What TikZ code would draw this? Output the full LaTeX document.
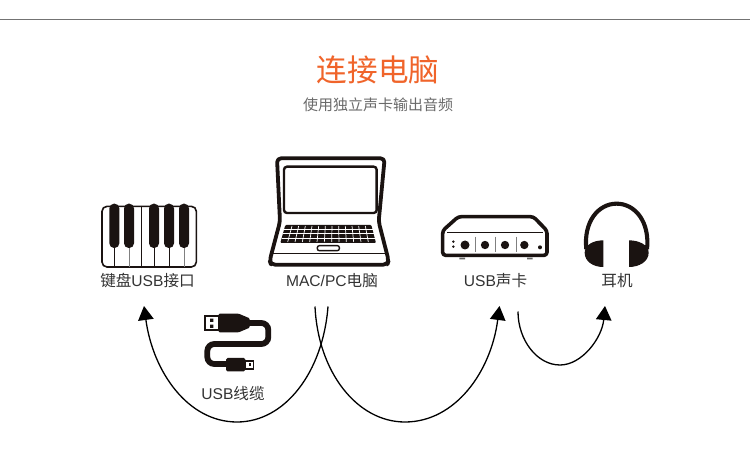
\documentclass[tikz,border=0pt]{standalone}
\usepackage{fontspec}
\setmainfont{Liberation Sans}
\newfontfamily\cjk{Noto Sans CJK SC}
\usetikzlibrary{arrows.meta}
\definecolor{ink}{HTML}{1A1311}
\definecolor{titleor}{HTML}{F0642A}
\definecolor{subg}{HTML}{6A6A6A}
\definecolor{labelg}{HTML}{333333}
\tikzset{
  lab/.style={font=\fontsize{15.6}{15.6}\selectfont, text=labelg, inner sep=0pt, anchor=center},
  arcline/.style={line width=1.3pt, black, -{Triangle[length=14pt,width=15.5pt]}},
  thinline/.style={draw=ink, line width=0.9pt},
  greyline/.style={draw=gray, line width=0.9pt},
}
\begin{document}
\begin{tikzpicture}[x=1pt,y=-1pt]
\useasboundingbox (0,0) rectangle (750,449);
\fill[white] (0,0) rectangle (750,449);
\draw[draw=gray!90!black, line width=1pt] (0,19.5) -- (750,19.5);
\node[inner sep=0pt, text=titleor, font=\fontsize{30.6}{30.6}\selectfont\cjk] (title) at (378,70) {连接电脑};
\node[inner sep=0pt, text=subg, font=\fontsize{15}{15}\selectfont\cjk] (subtitle) at (378,104.5) {使用独立声卡输出音频};

% keyboard
\begin{scope}[shift={(90,150)},scale=1/3]
  \draw[draw=ink, line width=1.6pt, fill=white, rounded corners=5pt] (36,169) rectangle (319,351);
  \draw[thinline] (155,168) -- (155,352);
  \foreach \x in {73,192,237} \draw[thinline] (\x,280) -- (\x,352);
  \foreach \x in {117,282} \draw[greyline] (\x,280) -- (\x,352);
  \foreach \x in {73,117,192,237,282}
    \fill[ink, rounded corners=4.7pt] (\x-15,161) rectangle (\x+15,294);
\end{scope}

% laptop
\begin{scope}[shift={(90,150)},scale=1/3]
  \draw[draw=ink, line width=3.8pt, fill=white, line join=round, rounded corners=4pt]
    (561,25) -- (884,25) -- (866,215) -- (896,332) -- (892,344) -- (543,344) -- (539,332) -- (570,215) -- cycle;
  \draw[draw=ink, line width=2.4pt, rounded corners=3pt] (582,50) rectangle (860,189);
  \fill[ink, rounded corners=1pt] (586,225) -- (844,225) -- (858,279) -- (571,279) -- cycle;
  \foreach \y/\a/\b in {238/582/848,251/578/851,265/575/855}
    \draw[white, line width=0.7pt] (\a,\y) -- (\b,\y);
  \foreach \t in {1,...,12}
    \draw[white, line width=0.7pt] ({586+\t*20},228) -- ({571+\t*22},276);
  \draw[draw=ink, line width=1.4pt, rounded corners=2pt] (682,287) rectangle (748,302);
  \draw[draw=ink, line width=0.9pt] (550,310) -- (885,310);
\end{scope}

% sound card
\begin{scope}[shift={(430,190)},scale=1/3]
  \draw[draw=ink, line width=3.6pt, fill=white, line join=round, rounded corners=3pt]
    (38,122) -- (85,80) -- (310,80) -- (351,122) -- (351,196) -- (38,196) -- cycle;
  \draw[draw=ink, line width=0.8pt] (52,128) -- (338,128);
  \foreach \x in {135,195,258} \draw[greyline] (\x,140) -- (\x,186);
  \foreach \x in {165,225,283} \fill[ink] (\x,165) circle (12.5);
  \fill[ink] (105,165) circle (13.5);
  \fill[ink] (70,155) circle (4) (70,170) circle (4);
  \fill[ink] (330,172) circle (6);
  \fill[gray!80!black] (88,203) rectangle (105,208) (291,203) rectangle (308,208);
\end{scope}

% headphones
\begin{scope}[shift={(430,190)},scale=1/3]
  \draw[draw=ink, line width=4.1pt] (469,178) .. controls (460,95) and (505,41) .. (560,41) .. controls (615,41) and (660,95) .. (651,178);
  \fill[ink] (520,151) .. controls (490,151) and (464,165) .. (464,188) .. controls (464,215) and (490,231) .. (520,231) -- cycle;
  \fill[ink] (597,151) .. controls (627,151) and (656,165) .. (656,188) .. controls (656,215) and (627,231) .. (597,231) -- cycle;
\end{scope}

% usb cable
\begin{scope}[shift={(130,300)},scale=1/3]
  \draw[draw=ink, line width=5.8pt, rounded corners=7pt]
    (350,69) -- (415,69) -- (415,132) -- (232,132) -- (232,192) -- (295,192);
  \fill[ink, rounded corners=1pt] (266,41) -- (326,41) -- (359,55) -- (359,83) -- (326,97) -- (266,97) -- cycle;
  \draw[draw=ink, line width=1.8pt, fill=white] (224,49) rectangle (266,91);
  \fill[ink] (240,56) rectangle (250,66) (240,74) rectangle (250,84);
  \fill[ink, rounded corners=1.5pt] (288,174) rectangle (346,214);
  \draw[draw=ink, line width=1.4pt, fill=white] (346,183) rectangle (370,207);
  \fill[ink] (356,190) rectangle (364,198);
\end{scope}

% labels
\node[lab] (kbd) at (147.5,281) {{\cjk 键盘}USB{\cjk 接口}};
\node[lab] (mac) at (332,281) {MAC/PC{\cjk 电脑}};
\node[lab] (card) at (495.5,281) {USB{\cjk 声卡}};
\node[lab] (phones) at (617,281) {{\cjk 耳机}};
\node[lab] (cable) at (233,394) {USB{\cjk 线缆}};

% connector ends
\coordinate (kbdin) at (144,306);
\coordinate (macoutA) at (328,306.5);
\coordinate (macoutB) at (315,306.5);
\coordinate (cardin) at (499.5,306);
\coordinate (cardout) at (518,311.5);
\coordinate (phonesin) at (605,306);

\draw[arcline] (macoutA) .. controls (323,372) and (285,422) .. (237,422) .. controls (188,422) and (153,372) .. (kbdin);
\draw[arcline] (macoutB) .. controls (318,372) and (357,422) .. (405,422) .. controls (455,422) and (491,372) .. (cardin);
\draw[arcline] (cardout) .. controls (518,340) and (537,365) .. (560,365) .. controls (582,365) and (602,338) .. (phonesin);
\end{tikzpicture}
\end{document}
